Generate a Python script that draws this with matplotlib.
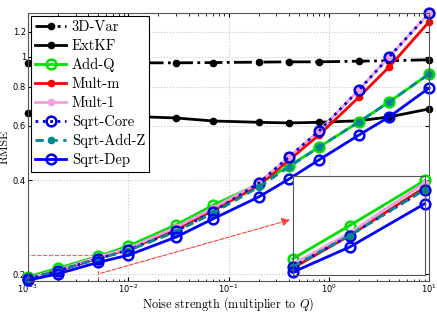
import numpy as np
import matplotlib
matplotlib.use('Agg')
import matplotlib.pyplot as plt
from matplotlib.ticker import FixedLocator, FixedFormatter, NullLocator
from matplotlib.patches import Rectangle

plt.rcParams['axes.formatter.use_mathtext'] = True

noise = [1e-3, 2e-3, 5e-3, 1e-2, 3e-2, 7e-2, 0.2, 0.4, 0.8, 2, 4, 10]

var3d = [0.955, 0.955, 0.955, 0.955, 0.955, 0.957, 0.96, 0.962, 0.962, 0.967, 0.97, 0.977]
extkf = [0.659, 0.655, 0.648, 0.643, 0.635, 0.621, 0.615, 0.612, 0.615, 0.622, 0.64, 0.679]
add_q = [0.196, 0.209, 0.228, 0.246, 0.288, 0.333, 0.39, 0.445, 0.512, 0.617, 0.715, 0.88]
mult_m = [0.1925, 0.205, 0.225, 0.240, 0.278, 0.32, 0.385, 0.465, 0.56, 0.742, 0.927, 1.294]
mult_1 = [0.194, 0.206, 0.227, 0.242, 0.283, 0.326, 0.393, 0.476, 0.577, 0.782, 0.998, 1.38]
sqrt_core = [0.193, 0.205, 0.224, 0.239, 0.275, 0.317, 0.392, 0.476, 0.577, 0.782, 0.998, 1.38]
sqrt_add_z = [0.193, 0.205, 0.224, 0.238, 0.274, 0.314, 0.381, 0.442, 0.512, 0.617, 0.715, 0.88]
sqrt_dep = [0.191, 0.2005, 0.218, 0.23, 0.263, 0.301, 0.354, 0.404, 0.466, 0.56, 0.64, 0.793]

yticks = [0.2, 0.4, 0.6, 0.8, 1.0, 1.2]
ytick_labels = ['0.2', '0.4', '0.6', '0.8', '1', '1.2']

series = [
    ('3D-Var', var3d, dict(color='black', ls='-.', marker='o', ms=4.5, mfc='black')),
    ('ExtKF', extkf, dict(color='black', ls='-', marker='o', ms=4.5, mfc='black')),
    ('Add-Q', add_q, dict(color='#00e000', ls='-', marker='o', ms=7, mfc='none', mew=1.8)),
    ('Mult-m', mult_m, dict(color='#ff0000', ls='-', marker='o', ms=4.5, mfc='#ff0000')),
    ('Mult-1', mult_1, dict(color='#f0a0dc', ls='-', marker='o', ms=4.5, mfc='#f0a0dc')),
    ('Sqrt-Core', sqrt_core, dict(color='#0000e0', ls=':', marker='o', ms=7, mfc='none', mew=1.8)),
    ('Sqrt-Add-Z', sqrt_add_z, dict(color='#008890', ls='--', dashes=(3, 2), marker='o', ms=4.5, mfc='#008890')),
    ('Sqrt-Dep', sqrt_dep, dict(color='#0000ff', ls='-', marker='o', ms=7, mfc='none', mew=1.8)),
]

fig = plt.figure(figsize=(4.37, 3.12), dpi=100)
ax = fig.add_axes([0.064, 0.0994, 0.918, 0.8586])

for name, vals, style in series:
    ax.plot(noise, vals, label=name, lw=2, clip_on=False, **style)

ax.set_xscale('log')
ax.set_yscale('log')
ax.set_xlim(1e-3, 10)
ax.set_ylim(0.19, 1.38)
ax.yaxis.set_major_locator(FixedLocator(yticks))
ax.yaxis.set_major_formatter(FixedFormatter(ytick_labels))
ax.yaxis.set_minor_locator(NullLocator())
ax.tick_params(which='both', direction='in', top=True, right=True, labelsize=6, pad=1.5)
ax.tick_params(which='major', length=3)
ax.tick_params(which='minor', length=1.8)
ax.grid(True, which='major', ls=':', color='#c8c8c8', lw=0.8)
for s in ax.spines.values():
    s.set_color('#555555')

ax.set_xlabel('Noise strength (multiplier to $Q$)', family='cmr10', fontsize=8.8,
              math_fontfamily='cm')
ax.set_ylabel('RMSE', family='cmr10', fontsize=8.5)
ax.xaxis.set_label_coords(0.5, -0.052)
ax.yaxis.set_label_coords(-0.045, 0.5)

leg = ax.legend(loc='upper left', prop={'family': 'cmr10', 'size': 10.5},
                fancybox=False, framealpha=1, edgecolor='black', handlelength=2.1,
                borderaxespad=0.2, labelspacing=0.35, handletextpad=0.4,
                borderpad=0.3)
leg.get_frame().set_linewidth(0.8)

# zoom box and arrow to inset
ax.add_patch(Rectangle((1e-3, 0.19), 4e-3, 0.04, fill=False, ec='#ff6060',
                       ls='--', lw=0.8, zorder=1))
ax.annotate('', xy=(0.670, 0.298), xycoords='figure fraction',
            xytext=(5e-3, 0.2), textcoords='data',
            arrowprops=dict(arrowstyle='-|>', color='#ff4040', ls='--', lw=0.8,
                            mutation_scale=12))

axin = fig.add_axes([0.670, 0.119, 0.302, 0.317])
for name, vals, style in series[2:]:
    axin.plot(noise[:3], vals[:3], lw=2, clip_on=False, **style)
axin.set_xscale('log')
axin.set_yscale('log')
axin.set_xlim(1e-3, 5e-3)
axin.set_ylim(0.19, 0.23)
axin.set_xticks([])
axin.set_yticks([])
axin.xaxis.set_minor_locator(NullLocator())
axin.yaxis.set_minor_locator(NullLocator())
for s in axin.spines.values():
    s.set_color('#555555')

fig.savefig('out.png', dpi=100)
